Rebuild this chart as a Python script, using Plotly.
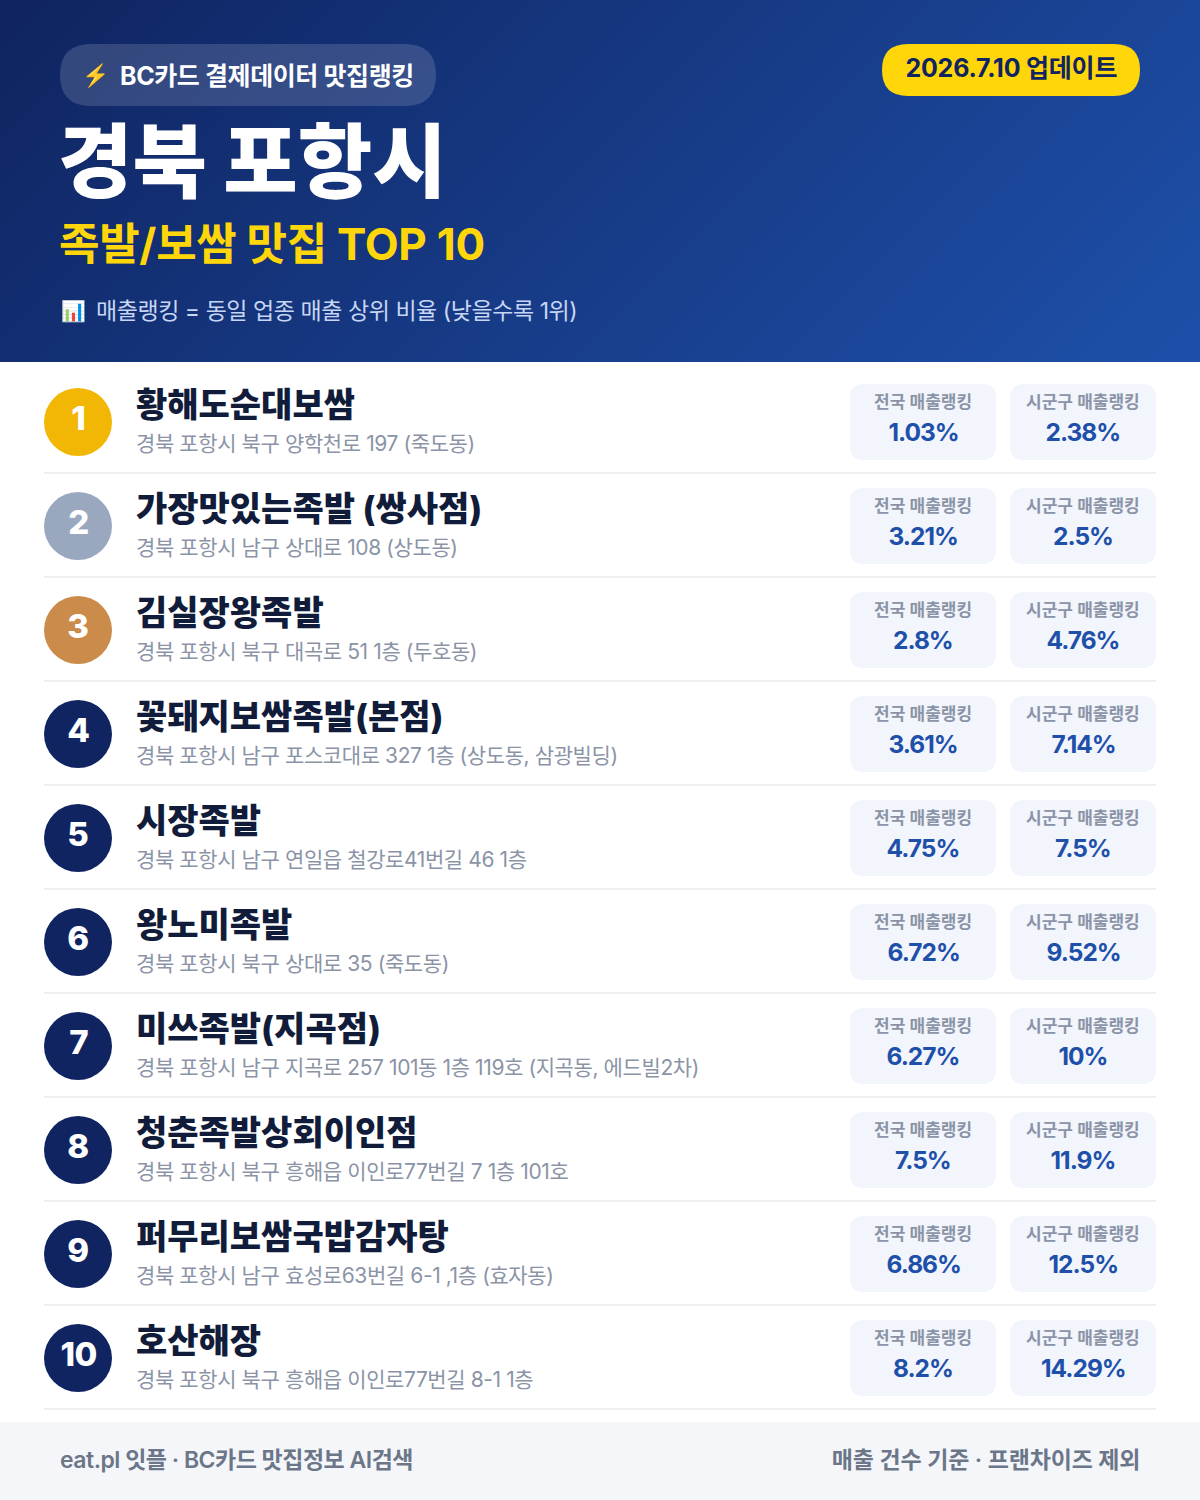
import json
import plotly.graph_objects as go
from urllib.parse import quote

names = ["황해도순대보쌈", "가장맛있는족발 (쌍사점)", "김실장왕족발", "꽃돼지보쌈족발(본점)", "시장족발",
         "왕노미족발", "미쓰족발(지곡점)", "청춘족발상회이인점", "퍼무리보쌈국밥감자탕", "호산해장"]
addresses = ["경북 포항시 북구 양학천로 197 (죽도동)", "경북 포항시 남구 상대로 108 (상도동)",
             "경북 포항시 북구 대곡로 51 1층 (두호동)", "경북 포항시 남구 포스코대로 327 1층 (상도동, 삼광빌딩)",
             "경북 포항시 남구 연일읍 철강로41번길 46 1층", "경북 포항시 북구 상대로 35 (죽도동)",
             "경북 포항시 남구 지곡로 257 101동 1층 119호 (지곡동, 에드빌2차)", "경북 포항시 북구 흥해읍 이인로77번길 7 1층 101호",
             "경북 포항시 남구 효성로63번길 6-1 ,1층 (효자동)", "경북 포항시 북구 흥해읍 이인로77번길 8-1 1층"]
national = ["1.03%", "3.21%", "2.8%", "3.61%", "4.75%", "6.72%", "6.27%", "7.5%", "6.86%", "8.2%"]
district = ["2.38%", "2.5%", "4.76%", "7.14%", "7.5%", "9.52%", "10%", "11.9%", "12.5%", "14.29%"]
badge_colors = ["#f2b705", "#9aa8bf", "#cb8b4a"] + ["#0f2460"] * 7

FONT = "Inter, Noto Sans CJK KR, sans-serif"
PITCH = 104

def rrect(x0, y0, x1, y1, r):
    return (f"M{x0+r},{y0} L{x1-r},{y0} Q{x1},{y0} {x1},{y0+r} L{x1},{y1-r} Q{x1},{y1} {x1-r},{y1} "
            f"L{x0+r},{y1} Q{x0},{y1} {x0},{y1-r} L{x0},{y0+r} Q{x0},{y0} {x0+r},{y0} Z")

shapes, ann, spacing = [], [], []

def box(x0, y0, x1, y1, r, color, layer="below"):
    shapes.append(dict(type="path", path=rrect(x0, y0, x1, y1, r), fillcolor=color, line_width=0, layer=layer))

def text(x, y, s, size, color, anchor="left", weight=400, ls=0):
    ann.append(dict(x=x, y=y, text=s, showarrow=False, xanchor=anchor, yanchor="middle", borderpad=0,
                    align=anchor, font=dict(family=FONT, size=size, color=color, weight=weight)))
    spacing.append(ls)

# header
svg = ("<svg xmlns='http://www.w3.org/2000/svg' width='1200' height='362'><defs>"
       "<linearGradient id='g' gradientUnits='userSpaceOnUse' x1='210' y1='-209' x2='990' y2='571'>"
       "<stop offset='0' stop-color='#0f2460'/><stop offset='1' stop-color='#1e50aa'/></linearGradient></defs>"
       "<rect width='1200' height='362' fill='url(#g)'/></svg>")
images = [dict(source="data:image/svg+xml," + quote(svg), xref="x", yref="y", x=0, y=0, sizex=1200, sizey=362,
               sizing="stretch", xanchor="left", yanchor="top", layer="below")]

box(60, 44, 436, 106, 31, "rgba(255,255,255,0.15)", "above")
text(81, 75, "⚡", 22, "#ffd60a")
text(119, 76, "BC카드 결제데이터 맛집랭킹", 25, "#ffffff", weight=700, ls=-0.4)
box(882, 44, 1140, 96, 26, "#ffd60a", "above")
text(1011, 68, "2026.7.10 업데이트", 25, "#0f2460", "center", 700, -0.2)
text(57, 162, "경북 포항시", 81, "#ffffff", weight=900)
text(58, 244, "족발/보쌈 맛집 TOP 10", 44, "#ffd60a", weight=700, ls=-0.3)
text(60, 311, "📊", 20, "#ffffff")
text(95, 311, "매출랭킹 = 동일 업종 매출 상위 비율 (낮을수록 1위)", 23, "#c7d6f5", ls=-0.45)

# rows
for i in range(10):
    off = PITCH * i
    shapes.append(dict(type="circle", x0=44, x1=112, y0=388 + off, y1=456 + off,
                       fillcolor=badge_colors[i], line_width=0, layer="below"))
    text(78, 418 + off, str(i + 1), 33, "#ffffff", "center", 800, -0.5)
    text(134.5, 404 + off, names[i], 34, "#111c3a", weight=800)
    text(134.5, 443.5 + off, addresses[i], 21, "#8a94a6", ls=-0.4)
    for x0, lab, val in ((850, "전국 매출랭킹", national[i]), (1010, "시군구 매출랭킹", district[i])):
        box(x0, 384 + off, x0 + 146, 460 + off, 14, "#f2f5fc")
        text(x0 + 73, 401.5 + off, lab, 17, "#8a94a6", "center", 600)
        text(x0 + 73, 432 + off, val, 24.5, "#1e50aa", "center", 700, -1)
    shapes.append(dict(type="rect", x0=44, x1=1156, y0=472 + off, y1=474 + off, fillcolor="#eef0f4",
                       line_width=0, layer="below"))

# footer
shapes.append(dict(type="rect", x0=0, x1=1200, y0=1422, y1=1500, fillcolor="#f5f6fa", line_width=0, layer="below"))
text(59, 1459.5, "eat.pl 잇플 · BC카드 맛집정보 AI검색", 23, "#6b7689", weight=600, ls=-0.5)
text(1141, 1459.5, "매출 건수 기준 · 프랜차이즈 제외", 23, "#6b7689", "right", 600, -0.15)

fig = go.Figure()
fig.update_layout(width=1200, height=1500, margin=dict(l=0, r=0, t=0, b=0), paper_bgcolor="#ffffff",
                  plot_bgcolor="#ffffff", shapes=shapes, annotations=ann, images=images, showlegend=False,
                  xaxis=dict(range=[0, 1200], visible=False, fixedrange=True),
                  yaxis=dict(range=[1500, 0], visible=False, fixedrange=True))
post = ("document.body.style.margin='0';var ls=" + json.dumps(spacing) + ";"
        "function applyLs(){document.querySelectorAll('.annotation').forEach(function(a){"
        "var i=+a.getAttribute('data-index');var t=a.querySelector('text');"
        "if(t&&ls[i])t.style.letterSpacing=ls[i]+'px';});}"
        "applyLs();setTimeout(applyLs,50);")
fig.write_html("out.html", config=dict(displayModeBar=False), post_script=post)
